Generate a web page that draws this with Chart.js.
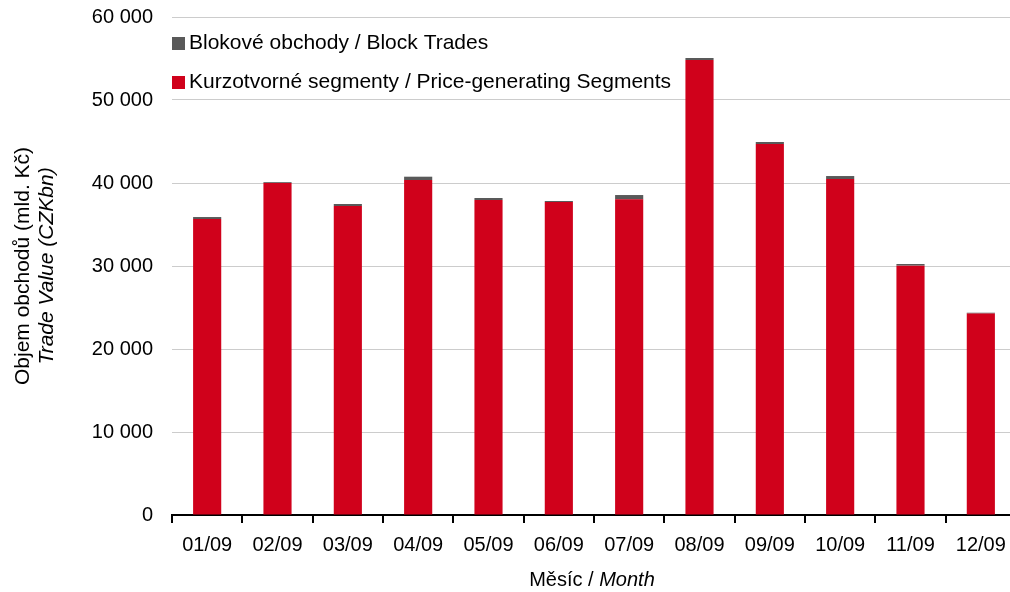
<!DOCTYPE html>
<html>
<head>
<meta charset="utf-8">
<script src="https://cdn.jsdelivr.net/npm/chart.js@4/dist/chart.umd.min.js"></script>
<style>
  html, body { margin: 0; padding: 0; background: #fff; overflow: hidden; }
  #wrap { width: 1020px; height: 606px; margin-top: -14px; }
</style>
</head>
<body>
<div id="wrap"><canvas id="myChart"></canvas></div>
<script>
// data (mld. Kc)
var months = ["01/09", "02/09", "03/09", "04/09", "05/09", "06/09", "07/09", "08/09", "09/09", "10/09", "11/09", "12/09"];
var priceSegments = [35650, 40000, 37230, 40360, 37950, 37710, 38030, 54820, 44700, 40480, 30040, 24270];
var blockTrades = [250, 100, 240, 400, 240, 120, 520, 240, 240, 360, 200, 100];
var yTicks = [0, 10000, 20000, 30000, 40000, 50000, 60000];

var font = "'Liberation Sans', Arial, sans-serif";

function fmt(v) {
  return String(v).replace(/\B(?=(\d{3})+(?!\d))/g, " ");
}

// legend in top left of plot + axis titles (mixed upright / italic)
var extras = {
  id: "extras",
  afterDraw: function (chart) {
    var c = chart.ctx;
    var ds = chart.data.datasets;
    var top = chart.chartArea.top;
    var bottom = chart.chartArea.bottom;
    c.save();
    c.font = "21px " + font;
    c.textBaseline = "middle";
    c.textAlign = "left";
    var rows = [ds[1], ds[0]];
    var ys = [top + 26, top + 65];
    rows.forEach(function (d, i) {
      c.fillStyle = d.backgroundColor;
      c.fillRect(172, ys[i] - 6, 13, 13);
      c.fillStyle = "#000";
      c.fillText(d.label, 189, ys[i]);
    });

    // x title
    var a = "Měsíc / ", b = "Month";
    c.font = "20px " + font;
    var wa = c.measureText(a).width;
    c.font = "italic 20px " + font;
    var wb = c.measureText(b).width;
    var x0 = (chart.chartArea.left + chart.chartArea.right) / 2 - (wa + wb) / 2 - 2;
    c.font = "20px " + font;
    c.fillText(a, x0, bottom + 65);
    c.font = "italic 20px " + font;
    c.fillText(b, x0 + wa, bottom + 65);

    // y title
    var cy = (top + bottom) / 2;
    c.translate(0, cy);
    c.rotate(-Math.PI / 2);
    c.textAlign = "center";
    c.font = "21px " + font;
    c.fillText("Objem obchodů (mld. Kč)", 0, 23);
    c.font = "italic 21px " + font;
    c.fillText("Trade Value (CZKbn)", 0, 47);
    c.restore();
  }
};

var ctx = document.getElementById("myChart");
var myChart = new Chart(ctx, {
  type: "bar",
  data: {
    labels: months,
    datasets: [
      {
        label: "Kurzotvorné segmenty / Price-generating Segments",
        data: priceSegments,
        backgroundColor: "#d0011b",
        barPercentage: 0.4,
        categoryPercentage: 1.0
      },
      {
        label: "Blokové obchody / Block Trades",
        data: blockTrades,
        backgroundColor: "#595959",
        barPercentage: 0.4,
        categoryPercentage: 1.0
      }
    ]
  },
  options: {
    responsive: true,
    maintainAspectRatio: false,
    animation: false,
    layout: { padding: { top: 3, right: 4, left: 0, bottom: 0 } },
    plugins: {
      legend: { display: false },
      tooltip: { enabled: false }
    },
    scales: {
      x: {
        stacked: true,
        afterFit: function (s) { s.height = 77; },
        border: { display: true, color: "#000", width: 2 },
        grid: {
          offset: true,
          drawOnChartArea: false,
          drawTicks: true,
          tickLength: 8,
          color: "#000",
          lineWidth: 2
        },
        ticks: {
          color: "#000",
          font: { family: font, size: 20 },
          padding: 10,
          maxRotation: 0,
          autoSkip: false
        }
      },
      y: {
        stacked: true,
        min: 0,
        max: 60000,
        afterFit: function (s) { s.width = 172; },
        afterBuildTicks: function (s) {
          s.ticks = yTicks.map(function (v) { return { value: v }; });
        },
        border: { display: false },
        grid: { color: "#cccccc", lineWidth: 1, drawTicks: false },
        ticks: {
          color: "#000",
          font: { family: font, size: 20 },
          padding: 19,
          callback: function (v) { return fmt(v); }
        }
      }
    }
  },
  plugins: [extras]
});
</script>
</body>
</html>
